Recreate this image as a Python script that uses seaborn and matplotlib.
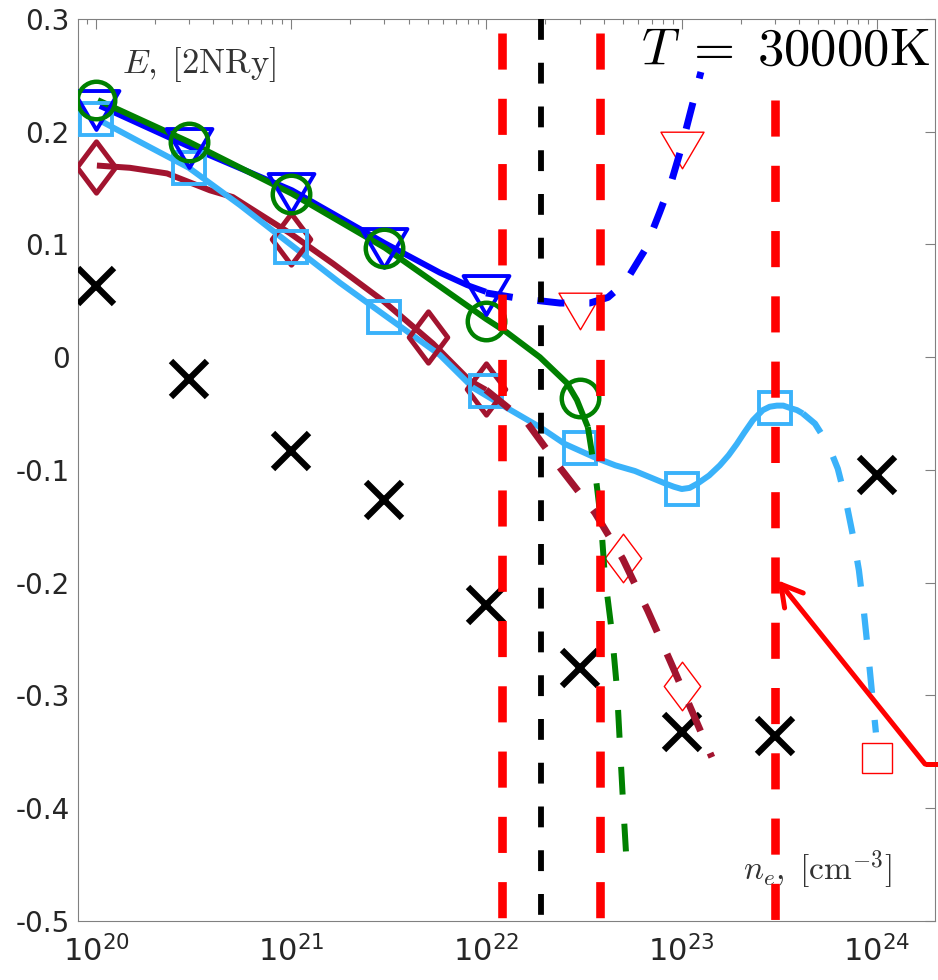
import numpy as np
import matplotlib
matplotlib.use("Agg")
import matplotlib.pyplot as plt
from matplotlib.path import Path
from matplotlib.markers import MarkerStyle
import seaborn as sns

# ---------------- data ----------------
# sampled electron densities (cm^-3)
n_x = [1e20, 3e20, 1e21, 3e21, 1e22, 3e22, 1e23, 3e23, 1e24]
e_cross = [0.063, -0.019, -0.083, -0.127, -0.220, -0.276, -0.333, -0.336, -0.105]

n_tri = [1e20, 3e20, 1e21, 3e21, 1e22]
e_tri = [0.219, 0.186, 0.146, 0.097, 0.055]
n_tri_open = [3e22, 1e23]
e_tri_open = [0.041, 0.184]

n_circ = [1e20, 3e20, 1e21, 3e21, 1e22, 3e22]
e_circ = [0.228, 0.191, 0.145, 0.097, 0.032, -0.036]

n_sq = [1e20, 3e20, 1e21, 3e21, 1e22, 3e22, 1e23, 3e23]
e_sq = [0.211, 0.168, 0.098, 0.036, -0.030, -0.081, -0.117, -0.045]
n_sq_open = [1e24]
e_sq_open = [-0.356]

n_dia = [1e20, 1e21, 5e21, 1e22]
e_dia = [0.169, 0.105, 0.018, -0.028]
n_dia_open = [5e22, 1e23]
e_dia_open = [-0.178, -0.292]

# fitted curves, log10(n) and energy
blue_logn = [20.020, 20.476, 21.004, 21.480, 21.761, 21.900, 21.997]
blue_e = [0.223, 0.187, 0.148, 0.101, 0.075, 0.064, 0.058]
blue_ext_logn = [21.997, 22.171, 22.376, 22.529, 22.622, 22.709, 22.811, 22.888,
                 22.949, 22.995, 23.041, 23.098]
blue_ext_e = [0.057, 0.052, 0.048, 0.048, 0.053, 0.066, 0.095, 0.129, 0.157,
              0.184, 0.215, 0.253]

green_logn = [20.010, 20.476, 21.004, 21.480, 21.997, 22.104, 22.273, 22.412,
              22.463, 22.519]
green_e = [0.228, 0.191, 0.145, 0.097, 0.034, 0.022, 0.000, -0.023, -0.038, -0.062]
green_ext_logn = [22.519, 22.560, 22.586, 22.606, 22.642, 22.668, 22.683, 22.698,
                  22.719]
green_ext_e = [-0.062, -0.107, -0.145, -0.194, -0.244, -0.294, -0.343, -0.391,
               -0.453]

sky_logn = [20.020, 20.225, 20.476, 20.737, 21.004, 21.249, 21.480, 21.761,
            21.930, 22.104, 22.273, 22.401, 22.555, 22.660, 22.760, 22.914,
            22.960, 23.000, 23.040, 23.082, 23.140, 23.195, 23.240, 23.282,
            23.320, 23.364, 23.415, 23.450, 23.487, 23.520, 23.553, 23.590,
            23.620]
sky_e = [0.210, 0.191, 0.168, 0.135, 0.099, 0.066, 0.037, 0.002, -0.027,
         -0.045, -0.062, -0.077, -0.089, -0.096, -0.101, -0.112, -0.115,
         -0.117, -0.116, -0.112, -0.105, -0.096, -0.087, -0.077, -0.067,
         -0.056, -0.047, -0.044, -0.043, -0.043, -0.045, -0.047, -0.050]
sky_ext_logn = [23.620, 23.682, 23.748, 23.799, 23.840, 23.876, 23.907, 23.932,
                23.953, 23.973, 23.994]
sky_ext_e = [-0.050, -0.059, -0.077, -0.099, -0.127, -0.158, -0.189, -0.225,
             -0.260, -0.296, -0.333]

wine_logn = [20.005, 20.174, 20.364, 20.584, 20.701, 20.993, 21.214, 21.470,
             21.726, 21.915, 21.997]
wine_e = [0.170, 0.168, 0.163, 0.148, 0.142, 0.110, 0.083, 0.050, 0.012,
          -0.021, -0.029]
wine_ext_logn = [21.997, 22.212, 22.376, 22.555, 22.698, 22.826, 22.939, 23.052,
                 23.154]
wine_ext_e = [-0.029, -0.059, -0.098, -0.138, -0.179, -0.225, -0.269, -0.314,
              -0.355]

# characteristic densities
n_red_lines = [1.2e22, 3.8e22, 3.0e23]
e_red_tops = [0.288, 0.288, 0.228]
n_black_line = 1.9e22

# pointer
arrow_tip = (3.1e23, -0.198)
arrow_tail = (1.76e24, -0.361)

x_ticks = [1e20, 1e21, 1e22, 1e23, 1e24]
y_ticks = [-0.5, -0.4, -0.3, -0.2, -0.1, 0.0, 0.1, 0.2, 0.3]
y_ticklabels = ["-0.5", "-0.4", "-0.3", "-0.2", "-0.1", "0", "0.1", "0.2", "0.3"]

# ---------------- style ----------------
sns.set_theme(style="white")
plt.rcParams["font.family"] = ["DejaVu Sans"]
plt.rcParams["mathtext.fontset"] = "dejavusans"
plt.rcParams["axes.unicode_minus"] = False
plt.rcParams["lines.scale_dashes"] = False

BLUE = "#0000FF"
GREEN = "#008000"
SKY = "#3AB2FA"
WINE = "#A2142F"
RED = "#FF0000"
GREY = "#808080"

tri_marker = MarkerStyle(Path([(-1, 0.85), (1, 0.85), (0, -0.85), (-1, 0.85)],
                              closed=True), joinstyle="miter")
dia_marker = MarkerStyle(Path([(0, 1), (0.75, 0), (0, -1), (-0.75, 0), (0, 1)],
                              closed=True), joinstyle="miter")

fig = plt.figure(figsize=(9.38, 9.8), dpi=100)
ax = fig.add_axes([0.0832, 0.0605, 0.9136, 0.9201])
ax.set_xscale("log")


def curve(logn, e, color, lw, dash=None, z=2):
    kw = dict(color=color, linewidth=lw, zorder=z, ax=ax, estimator=None,
              sort=False, legend=False)
    if dash is not None:
        kw["linestyle"] = (0, dash)
        kw["dash_capstyle"] = "butt"
    else:
        kw["solid_capstyle"] = "butt"
        kw["solid_joinstyle"] = "round"
    sns.lineplot(x=10 ** np.asarray(logn), y=e, **kw)


def points(n, e, marker, color, ms, mew, z=3):
    sns.lineplot(x=n, y=e, marker=marker, markersize=ms, markerfacecolor="none",
                 markeredgecolor=color, markeredgewidth=mew, linestyle="none",
                 color=color, ax=ax, estimator=None, sort=False, legend=False,
                 zorder=z)


# solid fits
curve(wine_logn, wine_e, WINE, 4.3)
curve(sky_logn, sky_e, SKY, 4.3)
curve(blue_logn, blue_e, BLUE, 4.3)
curve(green_logn, green_e, GREEN, 4.3)

# markers on the fits
points(n_x, e_cross, "x", "black", 26, 4.5)
points(n_dia, e_dia, dia_marker, WINE, 37, 3.6)
points(n_sq, e_sq, "s", SKY, 22.5, 2.8)
points(n_tri, e_tri, tri_marker, BLUE, 33, 2.8)
points(n_circ, e_circ, "o", GREEN, 27, 3.2)

# open red markers
points(n_tri_open, e_tri_open, tri_marker, RED, 31, 1.0)
points(n_dia_open, e_dia_open, dia_marker, RED, 35, 1.0)
points(n_sq_open, e_sq_open, "s", RED, 22, 1.0)

# dashed continuations
curve(blue_ext_logn, blue_ext_e, BLUE, 5.0, dash=(19.5, 18.0), z=4)
curve(green_ext_logn, green_ext_e, GREEN, 4.3, dash=(20.0, 21.0), z=4)
curve(sky_ext_logn, sky_ext_e, SKY, 4.5, dash=(19.0, 19.5), z=4)
curve(wine_ext_logn, wine_ext_e, WINE, 5.0, dash=(21.6, 17.3), z=4)

# characteristic densities
for xv, top in zip(n_red_lines, e_red_tops):
    ax.plot([xv, xv], [top, -0.5], color=RED, linewidth=6.2,
            linestyle=(0, (26.0, 21.0)), dash_capstyle="butt", zorder=6)
ax.plot([n_black_line, n_black_line], [0.3, -0.5], color="black", linewidth=4.2,
        linestyle=(0, (15.0, 16.5)), dash_capstyle="butt", zorder=6)

# pointer from the neighbouring panel
ax.plot([arrow_tail[0], arrow_tail[0] * 1.6], [arrow_tail[1], arrow_tail[1]],
        color=RED, linewidth=3.6, solid_capstyle="butt", clip_on=False, zorder=7)
ax.annotate("", xy=arrow_tip, xytext=arrow_tail, annotation_clip=False,
            arrowprops=dict(arrowstyle="->,head_length=0.75,head_width=0.43",
                            color=RED, lw=3.6, shrinkA=0, shrinkB=0,
                            mutation_scale=20), zorder=7)

# ---------------- axes ----------------
ax.set_xlim(8.1e19, 1.98e24)
ax.set_ylim(-0.5, 0.3)
ax.set_xticks(x_ticks)
ax.set_yticks(y_ticks)
ax.set_yticklabels(y_ticklabels)
ax.tick_params(which="both", direction="in", top=True, right=True, color=GREY,
               width=0.8, labelcolor="#262626")
ax.tick_params(which="major", length=7)
ax.tick_params(which="minor", length=3.6)
ax.tick_params(axis="y", which="major", labelsize=20, pad=6)
ax.tick_params(axis="x", which="major", labelsize=22, pad=10)
for sp in ax.spines.values():
    sp.set_color(GREY)
    sp.set_linewidth(0.8)
ax.set_xlabel("")
ax.set_ylabel("")

# annotations
ax.text(0.994, 0.949, r"$T\;=\;30000\mathrm{K}$", transform=ax.transAxes,
        ha="right", va="baseline", fontsize=38, color="black",
        math_fontfamily="cm", zorder=8)
ax.text(0.051, 0.940, r"$E,\;[\mathrm{2NRy}]$", transform=ax.transAxes,
        ha="left", va="baseline", fontsize=25, color="#333333",
        math_fontfamily="cm", zorder=5)
ax.text(0.776, 0.045, r"$n_e,\;[\mathrm{cm}^{-3}]$", transform=ax.transAxes,
        ha="left", va="baseline", fontsize=24, color="#333333",
        math_fontfamily="cm", zorder=5)

fig.savefig("out.png", dpi=100)
